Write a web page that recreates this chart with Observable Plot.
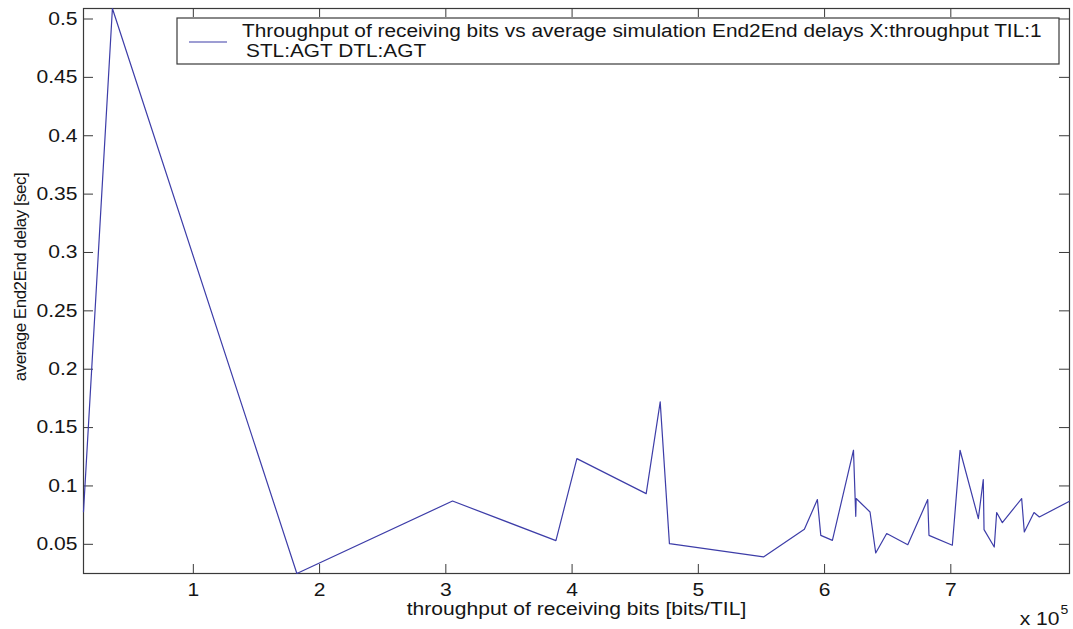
<!DOCTYPE html>
<html><head><meta charset="utf-8">
<script src="https://cdn.jsdelivr.net/npm/d3@7"></script>
<script src="https://cdn.jsdelivr.net/npm/@observablehq/plot@0.6"></script>
<style>
html,body{margin:0;padding:0;background:#fff;}
#chart{position:relative;width:1073px;height:629px;overflow:hidden;}
</style></head><body><div id="chart"></div>
<script>
// ---- data ----
const throughput = [13000, 35900, 182000, 305300, 387200, 403800, 458700, 469800, 477100, 551600,
  584000, 594300, 597000, 606200, 622900, 624200, 624700, 625000, 636000, 640500,
  649200, 665900, 681700, 682700, 701200, 707300, 721800, 725700, 726300, 734400,
  736300, 740800, 756100, 758200, 765900, 770100, 794000];
const delay = [0.078, 0.509, 0.025, 0.0871, 0.0532, 0.1234, 0.0934, 0.172, 0.0506, 0.0392,
  0.0629, 0.0883, 0.0577, 0.0534, 0.1306, 0.0892, 0.0740, 0.0892, 0.0777, 0.0426,
  0.0592, 0.0497, 0.0883, 0.0577, 0.0492, 0.1306, 0.0720, 0.1055, 0.0626, 0.0477,
  0.0772, 0.0686, 0.0892, 0.0606, 0.0772, 0.0734, 0.0869];
const xTicks = [100000, 200000, 300000, 400000, 500000, 600000, 700000];
const yTicks = [0.05, 0.1, 0.15, 0.2, 0.25, 0.3, 0.35, 0.4, 0.45, 0.5];
const legendLine1 = "Throughput of receiving bits vs average simulation End2End delays X:throughput TIL:1";
const legendLine2 = "STL:AGT DTL:AGT";
const xLabel = "throughput of receiving bits [bits/TIL]";
const yLabel = "average End2End delay [sec]";
const xMultiplier = "x 10";
const xExponent = "5";

// ---- chart ----
const data = throughput.map((x, i) => ({x, y: delay[i]}));
const W = 1073, H = 629, mT = 8, mB = 56, mL = 83, mR = 4;
const plotH = H - mT - mB, plotW = W - mL - mR;
const frameColor = "#3a3a3a";
const lineColor = "#3d3da8";
const font = "'Liberation Sans', Arial, sans-serif";

const chart = Plot.plot({
  width: W, height: H,
  marginTop: mT, marginBottom: mB, marginLeft: mL, marginRight: mR,
  style: {fontFamily: font, fontSize: "18px", color: "#151515", background: "#fff"},
  x: {domain: d3.extent(throughput)},
  y: {domain: d3.extent(delay)},
  marks: [
    Plot.frame({stroke: frameColor, strokeWidth: 1.2}),
    Plot.tickX(xTicks, {x: d => d, insetTop: plotH - 9, stroke: frameColor}),
    Plot.tickX(xTicks, {x: d => d, insetBottom: plotH - 9, stroke: frameColor}),
    Plot.tickY(yTicks, {y: d => d, insetRight: plotW - 10, stroke: frameColor}),
    Plot.tickY(yTicks, {y: d => d, insetLeft: plotW - 10, stroke: frameColor}),
    Plot.axisX({ticks: xTicks, tickSize: 0, tickPadding: 10, tickFormat: d => String(d / 1e5), label: null, fontSize: 18}),
    Plot.axisY({ticks: yTicks, tickSize: 0, tickPadding: 6, tickFormat: d => String(d), label: null, fontSize: 18}),
    Plot.line(data, {x: "x", y: "y", stroke: lineColor, strokeWidth: 1.2}),
    Plot.text([xLabel], {text: d => d, frameAnchor: "bottom", dy: 41, fontSize: 18}),
    Plot.text([yLabel], {text: d => d, frameAnchor: "left", textAnchor: "middle", dx: -63, dy: -14, rotate: -90, fontSize: 17}),
    Plot.text([xMultiplier], {text: d => d, frameAnchor: "bottom-right", textAnchor: "end", dx: -10, dy: 51, fontSize: 18}),
    Plot.text([xExponent], {text: d => d, frameAnchor: "bottom-right", textAnchor: "middle", dx: -5, dy: 40, fontSize: 12})
  ]
});
document.getElementById("chart").appendChild(chart);

// ---- legend box ----
const svg = d3.select(chart);
const lg = svg.append("g").attr("font-family", font).attr("font-size", 18)
  .attr("fill", "#151515").attr("text-anchor", "start");
lg.append("rect").attr("x", 177).attr("y", 18).attr("width", 882).attr("height", 46)
  .attr("fill", "#fff").attr("stroke", frameColor).attr("stroke-width", 1.2);
lg.append("line").attr("x1", 189).attr("x2", 227).attr("y1", 42).attr("y2", 42)
  .attr("stroke", lineColor).attr("stroke-width", 1.2);
lg.append("text").attr("class", "lgtext").attr("x", 242).attr("y", 37).text(legendLine1);
lg.append("text").attr("class", "lgtext").attr("x", 246).attr("y", 57).text(legendLine2);

// ---- mimic the horizontally stretched look of the original picture ----
svg.selectAll("text").each(function () {
  const t = this.getAttribute("transform") || "";
  if (t.includes("rotate")) {
    this.style.letterSpacing = "-0.5px";
    return;
  }
  const len = this.getComputedTextLength();
  if (!len) return;
  const k = this.classList.contains("lgtext") ? 1.157 : 1.17;
  this.setAttribute("textLength", (len * k).toFixed(1));
  this.setAttribute("lengthAdjust", "spacingAndGlyphs");
});
</script>
</body></html>
